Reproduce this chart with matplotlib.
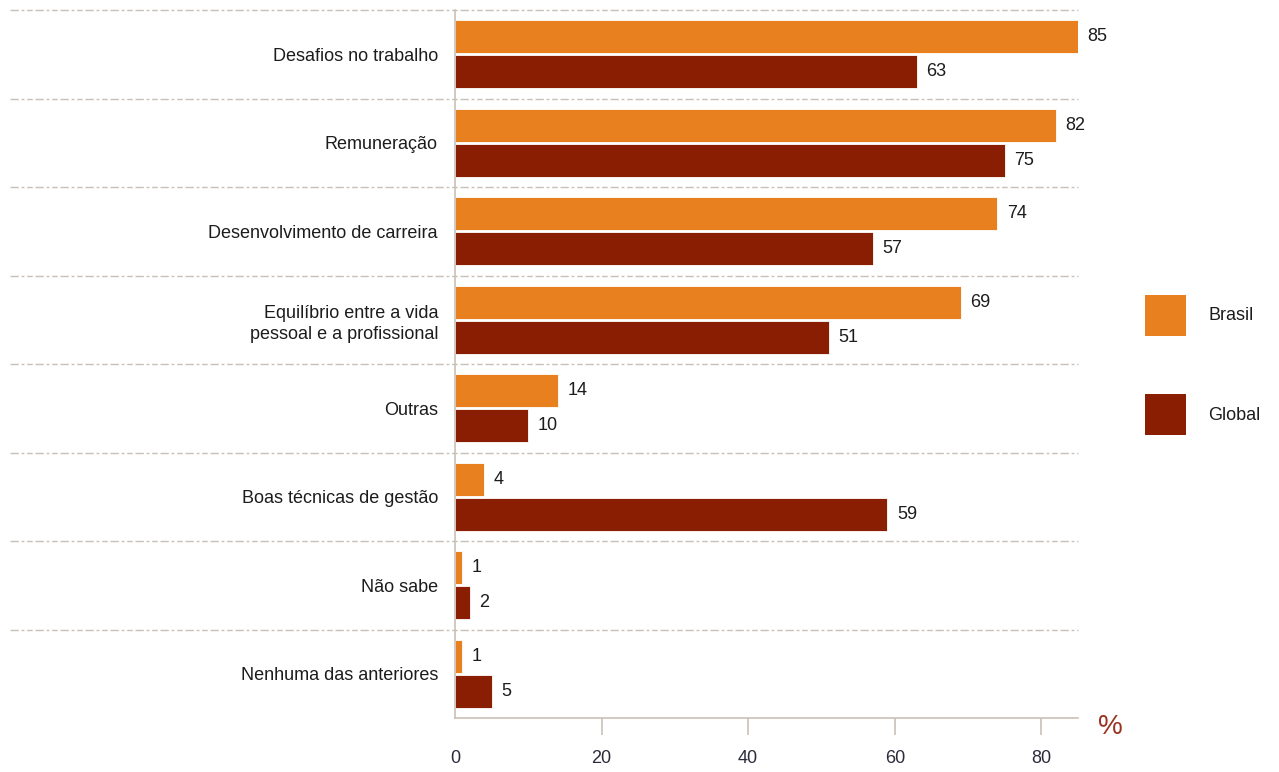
import matplotlib
matplotlib.use('Agg')
import matplotlib.pyplot as plt
from matplotlib.patches import Rectangle
import numpy as np

categories = [
    'Desafios no trabalho',
    'Remuneração',
    'Desenvolvimento de carreira',
    'Equilíbrio entre a vida\npessoal e a profissional',
    'Outras',
    'Boas técnicas de gestão',
    'Não sabe',
    'Nenhuma das anteriores',
]
brasil = [85, 82, 74, 69, 14, 4, 1, 1]
global_ = [63, 75, 57, 51, 10, 59, 2, 5]
series_names = ['Brasil', 'Global']
xticks = [0, 20, 40, 60, 80]

ORANGE = '#E8801F'
DARKRED = '#8A1E03'
GRID = '#C9C0B7'
TEXT = '#1c1c1c'
FS = 13

plt.rcParams['font.family'] = ['Liberation Sans', 'DejaVu Sans']

fig = plt.figure(figsize=(12.79, 7.72), dpi=100)
ax = fig.add_axes([455 / 1279, 1 - 718 / 772, 623 / 1279, 708 / 772])

y = np.arange(len(categories))
h = 0.375
off = 0.198
ax.barh(y - off, brasil, height=h, color=ORANGE, edgecolor='white', linewidth=0.6)
ax.barh(y + off, global_, height=h, color=DARKRED, edgecolor='white', linewidth=0.6)

for yi, v in zip(y - off, brasil):
    ax.annotate(str(v), (v, yi), xytext=(7, 0), textcoords='offset points',
                va='center', ha='left', fontsize=FS, color=TEXT)
for yi, v in zip(y + off, global_):
    ax.annotate(str(v), (v, yi), xytext=(7, 0), textcoords='offset points',
                va='center', ha='left', fontsize=FS, color=TEXT)

ax.set_xlim(0, 85)
ax.set_ylim(len(categories) - 0.5, -0.5)

# dashed separators between categories, reaching out under the labels
sep = np.arange(len(categories)) - 0.5
ax.hlines(sep, -445 / 623, 1, transform=ax.get_yaxis_transform(), clip_on=False,
          colors=GRID, linewidth=1.0, linestyles=(0, (6, 2, 2, 2, 4, 2)))

ax.set_yticks(y)
ax.set_yticklabels(categories, fontsize=FS, color=TEXT, ha='right',
                   multialignment='right', linespacing=1.3)
ax.tick_params(axis='y', length=0, pad=17 * 0.72)

ax.set_xticks(xticks)
ax.set_xticklabels([str(t) for t in xticks], fontsize=FS, color='#2c2c3c')
ax.tick_params(axis='x', length=12, width=1.2, color=GRID, pad=11, direction='out')
ax.xaxis.get_major_ticks()[0].tick1line.set_visible(False)

for s in ['top', 'right']:
    ax.spines[s].set_visible(False)
for s in ['left', 'bottom']:
    ax.spines[s].set_color(GRID)
    ax.spines[s].set_linewidth(1.2)

fig.text(1110 / 1279, 1 - 727 / 772, '%', fontsize=20, color='#9A3322', ha='center', va='center')

# legend
for name, col, top in zip(series_names, [ORANGE, DARKRED], [295, 394]):
    fig.patches.append(Rectangle((1145 / 1279, 1 - (top + 41) / 772), 41 / 1279, 41 / 772,
                                 transform=fig.transFigure, facecolor=col, edgecolor='none'))
    fig.text(1208 / 1279, 1 - (top + 21) / 772, name, fontsize=FS, color=TEXT,
             ha='left', va='center')

fig.savefig('out.png', dpi=100)
